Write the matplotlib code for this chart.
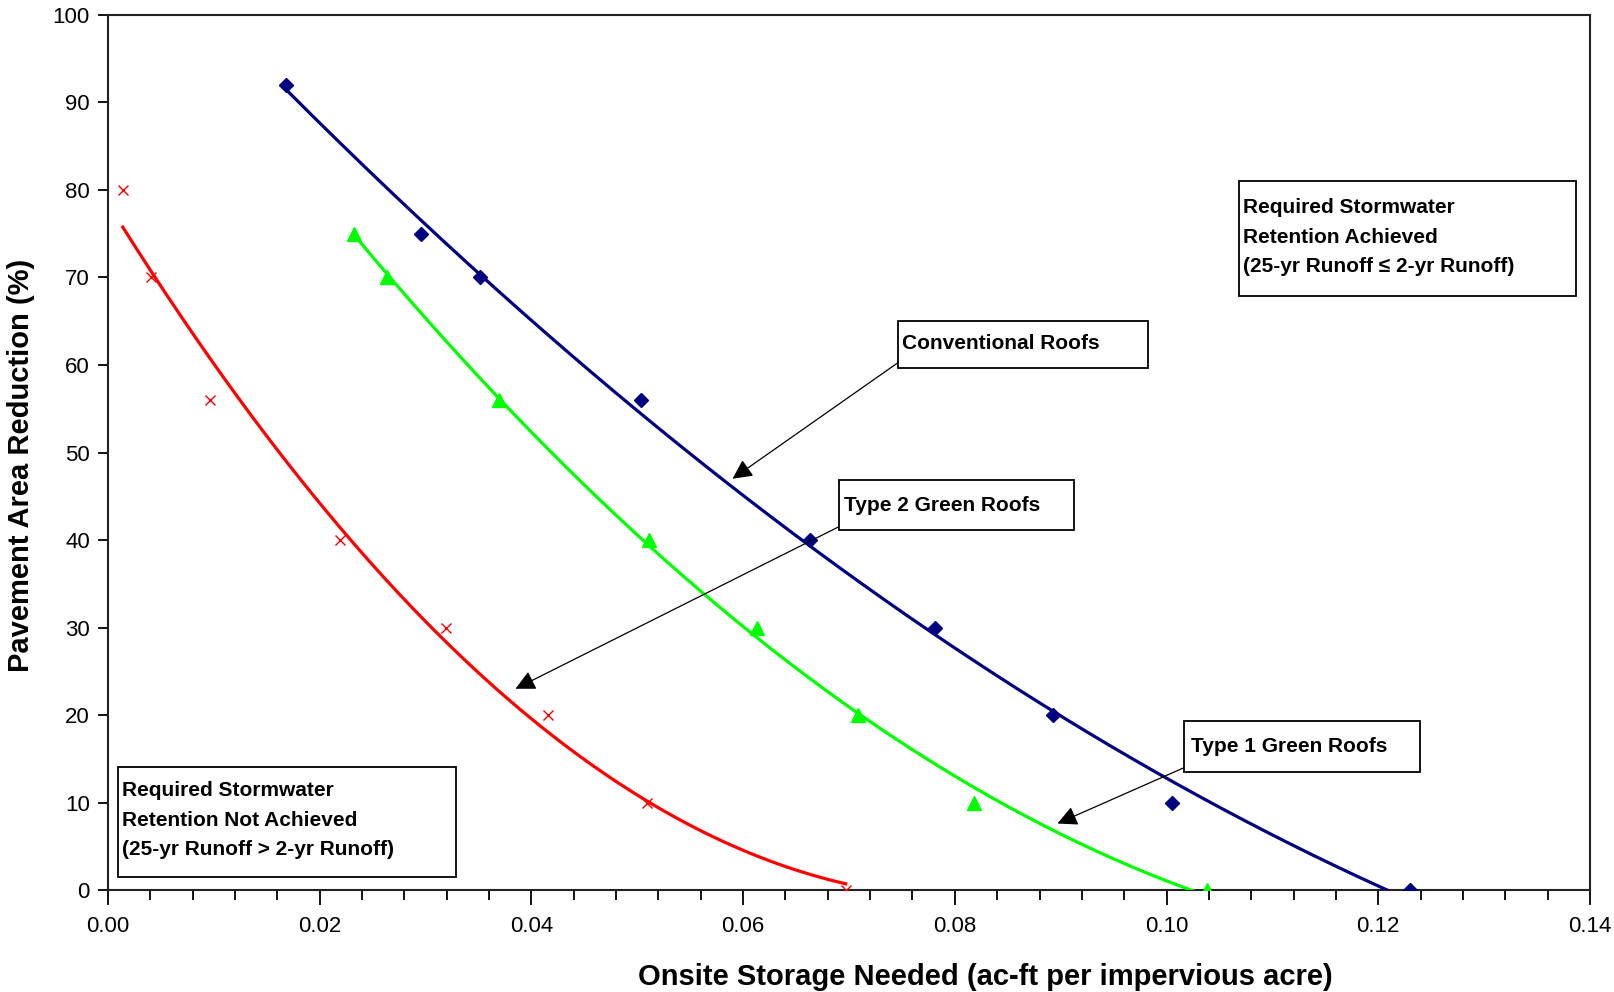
import numpy as np
import matplotlib
matplotlib.use("Agg")
import matplotlib.pyplot as plt
from matplotlib.patches import Rectangle
from matplotlib.ticker import MultipleLocator, FormatStrFormatter

plt.rcParams['font.family'] = ['Liberation Sans', 'DejaVu Sans']

# ---- data ----
conv_x = [0.0168, 0.0296, 0.0351, 0.0504, 0.0663, 0.0781, 0.0893, 0.1005, 0.1230]
conv_y = [92, 75, 70, 56, 40, 30, 20, 10, 0]
type2_x = [0.0232, 0.0264, 0.0369, 0.0511, 0.0613, 0.0709, 0.0818, 0.1038]
type2_y = [75, 70, 56, 40, 30, 20, 10, 0]
type1_x = [0.0014, 0.0041, 0.0096, 0.0219, 0.0319, 0.0416, 0.0509, 0.0697]
type1_y = [80, 70, 56, 40, 30, 20, 10, 0]

x_ticks = [0.00, 0.02, 0.04, 0.06, 0.08, 0.10, 0.12, 0.14]
y_ticks = [0, 10, 20, 30, 40, 50, 60, 70, 80, 90, 100]

labels = ["Conventional Roofs", "Type 2 Green Roofs", "Type 1 Green Roofs"]
box_achieved = "Required Stormwater\nRetention Achieved\n(25-yr Runoff \u2264 2-yr Runoff)"
box_not = "Required Stormwater\nRetention Not Achieved\n(25-yr Runoff > 2-yr Runoff)"

fig = plt.figure(figsize=(16.14, 9.92), dpi=100)
ax = fig.add_axes([0.0669, 0.1028, 0.9182, 0.8821])

series = [
    (conv_x, conv_y, '#000080', 'D', 7, 2),
    (type2_x, type2_y, '#00FF00', '^', 10, 2),
    (type1_x, type1_y, '#FF0000', 'x', 7, 2),
]
for xs, ys, col, mk, ms, deg in series:
    xs = np.asarray(xs); ys = np.asarray(ys)
    coef = np.polyfit(xs, ys, deg)
    xf = np.linspace(xs.min(), xs.max(), 300)
    ax.plot(xf, np.polyval(coef, xf), color=col, lw=2.3, zorder=3)
    if mk == 'x':
        ax.plot(xs, ys, linestyle='none', marker=mk, ms=ms, mew=1.0,
                color=col, zorder=4)
    else:
        ax.plot(xs, ys, linestyle='none', marker=mk, ms=ms, color=col,
                mec=col, zorder=4)

ax.set_xlim(x_ticks[0], x_ticks[-1])
ax.set_ylim(y_ticks[0], y_ticks[-1])
ax.set_xticks(x_ticks)
ax.xaxis.set_minor_locator(MultipleLocator(0.004))
ax.xaxis.set_major_formatter(FormatStrFormatter('%.2f'))
ax.set_yticks(y_ticks)
ax.tick_params(axis='x', which='major', direction='out', length=11, width=1.3,
               labelsize=16, pad=8)
ax.tick_params(axis='x', which='minor', direction='out', length=7, width=1.3)
ax.tick_params(axis='y', which='major', direction='out', length=7, width=1.3,
               labelsize=16, pad=6)
for s in ax.spines.values():
    s.set_linewidth(1.5)
    s.set_color('#222222')

ax.set_xlabel("Onsite Storage Needed (ac-ft per impervious acre)",
              fontsize=21, fontweight='bold')
ax.set_ylabel("Pavement Area Reduction (%)", fontsize=21, fontweight='bold')
ax.xaxis.set_label_coords(0.592, -0.083)
ax.yaxis.set_label_coords(-0.049, 0.485)

# ---- annotation boxes ----
def box(x0, x1, y0, y1):
    ax.add_patch(Rectangle((x0, y0), x1 - x0, y1 - y0, facecolor='white',
                           edgecolor='black', lw=1.3, zorder=6))

tfont = dict(fontsize=15, fontweight='bold', ha='left', va='center', zorder=7)

# arrows
arrows = [
    ((0.07467, 60.3), (0.0590, 47.0)),
    ((0.06902, 41.5), (0.0385, 23.0)),
    ((0.10169, 14.0), (0.0897, 7.6)),
]
for start, end in arrows:
    ax.annotate("", xy=end, xytext=start,
                arrowprops=dict(arrowstyle='-|>', color='black', lw=0.9,
                                mutation_scale=30, shrinkA=0, shrinkB=0),
                zorder=5)

box(0.07467, 0.09829, 59.6, 65.0)
ax.text(0.07505, 62.4, labels[0], **tfont)
box(0.06902, 0.09128, 41.1, 46.9)
ax.text(0.06951, 44.0, labels[1], **tfont)
box(0.10169, 0.12396, 13.5, 19.3)
ax.text(0.10228, 16.4, labels[2], **tfont)

box(0.10685, 0.13864, 67.9, 81.0)
for i, line in enumerate(box_achieved.split("\n")):
    ax.text(0.10723, 78.0 - 3.4 * i, line, **tfont)
box(0.00097, 0.03286, 1.5, 14.1)
for i, line in enumerate(box_not.split("\n")):
    ax.text(0.00136, 11.4 - 3.4 * i, line, **tfont)

fig.savefig("out.png", dpi=100, facecolor='white')
